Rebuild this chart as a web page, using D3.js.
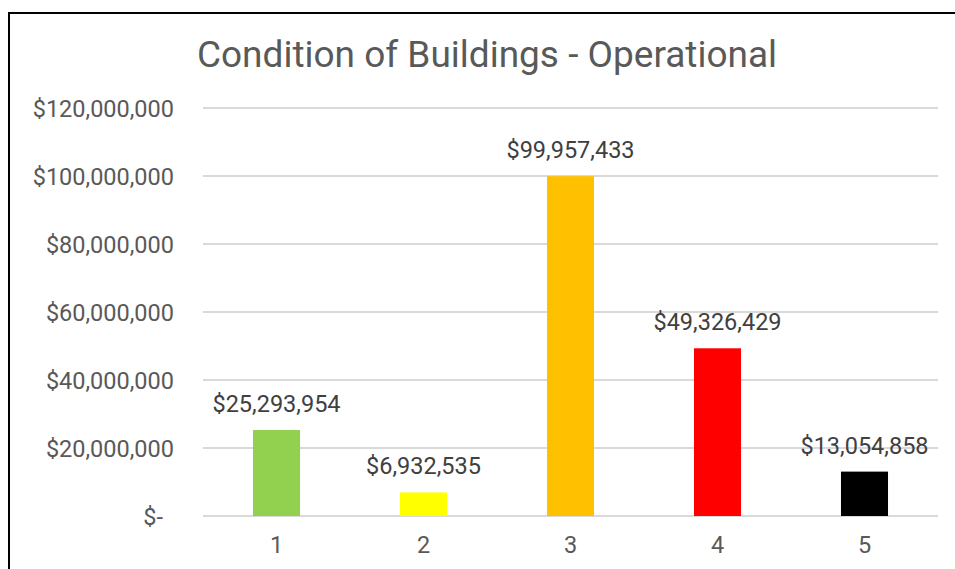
<!DOCTYPE html>
<html>
<head>
<meta charset="utf-8">
<script src="https://cdn.jsdelivr.net/npm/d3@7"></script>
<style>
  html, body { margin: 0; padding: 0; background: #fff; }
  svg { display: block; font-family: Roboto, "Noto Sans", sans-serif; }
</style>
</head>
<body>
<svg id="chart" width="955" height="569"></svg>
<script>
const categories = ["1", "2", "3", "4", "5"];
const values = [25293954, 6932535, 99957433, 49326429, 13054858];
const colors = ["#92D050", "#FFFF00", "#FFC000", "#FF0000", "#000000"];
const yTicks = [0, 20000000, 40000000, 60000000, 80000000, 100000000, 120000000];
const title = "Condition of Buildings - Operational";

const svg = d3.select("#chart");

// frame
svg.append("rect")
  .attr("x", 9).attr("y", 13)
  .attr("width", 1000).attr("height", 700)
  .attr("fill", "none").attr("stroke", "#000").attr("stroke-width", 2);

const plot = { left: 203, right: 938, top: 108, bottom: 516 };

const x = d3.scaleBand()
  .domain(categories)
  .range([plot.left, plot.right])
  .paddingInner(0.68)
  .paddingOuter(0.34);

const y = d3.scaleLinear()
  .domain([0, 120000000])
  .range([plot.bottom, plot.top]);

const fmt = d3.format(",");
const money = v => v === 0 ? "$-" : "$" + fmt(v);

// gridlines
svg.append("g")
  .selectAll("line")
  .data(yTicks)
  .join("line")
  .attr("x1", plot.left).attr("x2", plot.right)
  .attr("y1", d => y(d)).attr("y2", d => y(d))
  .attr("stroke", "#D9D9D9").attr("stroke-width", 2);

// y labels
svg.append("g")
  .selectAll("text")
  .data(yTicks)
  .join("text")
  .attr("x", 174)
  .attr("dx", d => d === 0 ? -11 : 0)
  .attr("y", d => y(d) + 9)
  .attr("text-anchor", "end")
  .attr("fill", "#595959")
  .attr("font-size", "23.5px")
  .text(money);

// bars
svg.append("g")
  .selectAll("rect")
  .data(values)
  .join("rect")
  .attr("x", (d, i) => x(categories[i]))
  .attr("width", x.bandwidth())
  .attr("y", d => y(d))
  .attr("height", d => y(0) - y(d))
  .attr("fill", (d, i) => colors[i]);

// data labels
svg.append("g")
  .selectAll("text")
  .data(values)
  .join("text")
  .attr("x", (d, i) => x(categories[i]) + x.bandwidth() / 2)
  .attr("y", d => y(d) - 18)
  .attr("text-anchor", "middle")
  .attr("fill", "#404040")
  .attr("font-size", "23.5px")
  .text(d => money(d));

// x labels
svg.append("g")
  .selectAll("text")
  .data(categories)
  .join("text")
  .attr("x", d => x(d) + x.bandwidth() / 2)
  .attr("y", plot.bottom + 37)
  .attr("text-anchor", "middle")
  .attr("fill", "#595959")
  .attr("font-size", "23.5px")
  .text(d => d);

// title
svg.append("text")
  .attr("x", 487)
  .attr("y", 67)
  .attr("text-anchor", "middle")
  .attr("fill", "#595959")
  .attr("font-size", "37px")
  .text(title);
</script>
</body>
</html>
